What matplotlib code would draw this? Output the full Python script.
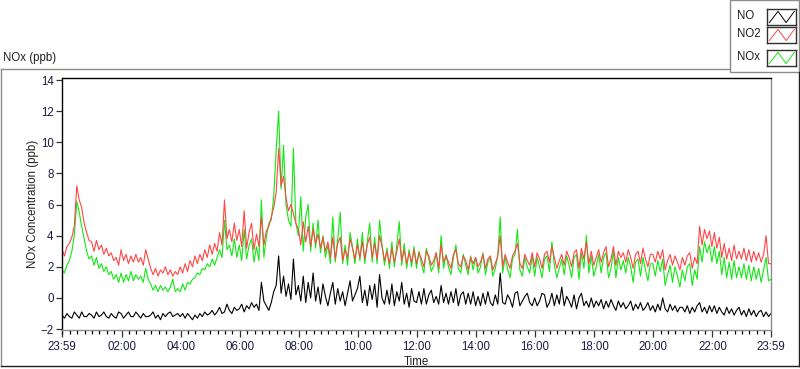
import numpy as np
import matplotlib
matplotlib.use("Agg")
import matplotlib.pyplot as plt
from matplotlib.lines import Line2D
from matplotlib.patches import Rectangle
from matplotlib.ticker import FixedLocator, MultipleLocator

# 5-minute readings, one row per hour, starting 23:59 of the previous day
no = [
    -1.1, -1.3, -1.0, -1.2, -1.3, -0.9, -1.1, -1.3, -0.9, -1.2, -1.2, -1.0,
    -1.1, -1.3, -0.9, -1.2, -1.1, -0.9, -1.2, -1.3, -1.0, -1.2, -1.3, -0.9,
    -1.0, -1.3, -1.1, -0.9, -1.2, -1.2, -0.9, -1.1, -1.3, -1.0, -1.2, -1.2,
    -1.1, -0.9, -1.3, -1.1, -1.4, -1.0, -1.2, -1.0, -0.9, -1.2, -1.1, -1.0,
    -1.2, -1.0, -1.3, -1.0, -1.2, -1.4, -1.1, -1.3, -1.0, -1.2, -0.9, -1.1,
    -1.0, -0.8, -1.1, -0.9, -0.6, -1.0, -0.9, -0.4, -0.8, -1.0, -0.6, -0.8,
    -0.7, -0.4, -0.9, -0.5, -0.7, -0.3, -0.6, -0.4, -0.8, 1.0, -0.2, -0.5,
    -0.8, -0.3, 0.4, 0.8, 2.7, 0.3, 1.4, 0.1, 0.9, -0.1, 2.5, 0.2,
    0.8, -0.2, 1.4, -0.3, 1.0, 0.0, 1.6, -0.2, 0.7, -0.4, 0.9, 0.1,
    -0.5, 0.3, 1.0, -0.4, 0.6, -0.2, 0.4, -0.5, 0.3, 1.1, -0.2, 0.2,
    0.6, 1.4, -0.3, 0.5, -0.5, 0.8, -0.1, 0.9, -0.6, 1.5, 0.0, -0.4,
    0.5, -0.4, 0.9, -0.5, 0.4, -0.2, 1.0, -0.4, 0.3, -0.6, 0.6, -0.2,
    -0.3, 0.4, -0.4, 0.6, -0.4, 0.2, 0.5, -0.3, 0.1, -0.4, 0.8, -0.3,
    0.3, -0.4, 0.4, -0.3, 0.6, -0.5, 0.2, 0.4, -0.4, 0.3, -0.4, 0.4,
    -0.5, 0.1, -0.5, 0.3, -0.4, 0.4, -0.3, -0.5, 0.2, -0.4, 1.6, -0.3,
    -0.4, 0.2, -0.1, -0.6, 0.3, 0.4, -0.5, -0.2, 0.1, 0.3, -0.3, -0.5,
    0.0, -0.5, -0.2, 0.3, 0.2, -0.6, -0.3, 0.3, -0.5, 0.2, -0.4, 0.7,
    -0.5, 0.1, -0.2, -0.6, 0.2, -0.7, 0.0, 0.3, -0.5, -0.2, -0.6, 0.0,
    -0.6, -0.2, -0.5, -0.1, -0.7, -0.2, -0.6, -0.1, -0.5, -0.8, -0.2, -0.6,
    -0.3, -0.7, -0.5, -0.2, -0.8, -0.4, -0.7, -0.3, -0.8, -0.6, -0.3, -0.8,
    -0.5, -0.9, -0.4, -0.8, 0.0, -0.7, -0.9, -0.4, -0.8, -0.5, -0.9, -0.6,
    -0.6, -0.9, -0.5, -1.0, -0.6, -0.9, -0.5, -0.3, -0.9, -0.6, -1.0, -0.5,
    -0.9, -0.5, -1.0, -0.6, -0.9, -1.1, -0.6, -1.0, -0.7, -1.1, -0.8, -0.6,
    -1.1, -0.8, -1.2, -0.7, -1.1, -0.8, -1.2, -0.9, -0.8, -1.2, -0.9, -1.2,
    -1.0,
]

no2 = [
    3.1, 2.7, 3.3, 3.5, 3.9, 4.6, 7.2, 6.3, 5.8, 4.8, 4.2, 3.7,
    3.6, 3.0, 3.7, 3.1, 3.4, 2.8, 3.2, 2.7, 2.9, 2.4, 2.6, 2.1,
    3.1, 2.4, 2.8, 2.2, 2.7, 2.3, 2.8, 2.3, 2.6, 2.1, 3.1, 2.5,
    1.9, 1.5, 1.9, 1.4, 1.8, 1.6, 2.0, 1.5, 1.8, 1.4, 1.7, 1.5,
    2.0, 1.6, 2.2, 1.7, 2.4, 2.0, 2.7, 2.2, 2.8, 2.4, 3.1, 2.6,
    3.4, 2.8, 3.5, 3.0, 4.2, 3.4, 6.3, 3.8, 4.4, 3.6, 4.8, 3.7,
    4.4, 3.3, 5.6, 3.2, 4.2, 4.8, 3.1, 4.1, 3.3, 5.2, 3.4, 4.3,
    4.6, 5.2, 5.8, 6.8, 9.6, 7.2, 7.8, 6.4, 5.6, 6.0, 5.4, 4.8,
    4.4, 3.4, 4.9, 3.6, 4.6, 3.3, 4.4, 3.5, 4.1, 3.2, 3.9, 3.0,
    3.6, 2.6, 3.9, 2.5, 3.5, 3.9, 2.4, 3.1, 2.6, 3.8, 3.2, 2.5,
    3.4, 2.6, 3.6, 2.5, 3.4, 3.9, 2.6, 3.5, 2.5, 4.0, 3.3, 2.4,
    3.0, 2.2, 3.2, 2.3, 3.0, 3.8, 2.4, 3.1, 2.2, 2.9, 2.3, 3.1,
    2.2, 2.9, 2.5, 2.0, 3.0, 2.7, 2.1, 2.4, 2.9, 1.9, 3.4, 2.3,
    2.7, 2.3, 1.9, 2.8, 3.1, 2.2, 2.0, 2.7, 2.4, 1.8, 2.6, 2.2,
    2.6, 2.0, 2.3, 2.8, 1.9, 2.5, 2.7, 1.8, 2.2, 2.7, 4.0, 2.0,
    2.8, 2.3, 1.9, 2.7, 3.0, 3.5, 2.2, 1.9, 2.8, 2.4, 2.1, 2.9,
    2.0, 2.9, 2.5, 1.9, 2.8, 3.0, 2.3, 3.3, 2.6, 1.9, 2.4, 2.8,
    2.1, 3.0, 2.6, 2.0, 2.9, 3.1, 1.9, 3.2, 2.5, 3.6, 2.2, 3.0,
    2.1, 2.6, 3.1, 2.3, 2.9, 3.3, 2.0, 2.5, 3.3, 2.1, 3.0, 2.6,
    2.9, 2.3, 3.1, 2.6, 1.9, 2.8, 3.0, 2.2, 3.2, 2.5, 2.0, 2.8,
    2.8, 2.3, 3.0, 2.5, 3.1, 1.8, 2.4, 2.8, 2.1, 2.7, 2.3, 1.8,
    2.6, 2.1, 2.7, 2.9, 1.9, 2.6, 2.2, 4.6, 3.4, 4.4, 3.8, 4.3,
    3.3, 4.2, 3.2, 3.9, 2.6, 3.5, 2.5, 3.2, 2.4, 3.4, 2.5, 3.0,
    2.5, 3.2, 2.4, 3.1, 2.3, 3.0, 2.4, 2.9, 2.3, 2.8, 4.0, 2.2,
    2.2,
]

nox = [
    1.8, 1.6, 2.1, 2.4, 3.0, 4.0, 6.2, 5.5, 4.6, 3.8, 3.0, 2.5,
    2.7, 2.1, 2.6, 1.9, 2.2, 1.7, 2.0, 1.5, 1.7, 1.2, 1.5, 1.0,
    1.6, 1.0, 1.5, 1.1, 1.7, 1.1, 1.5, 1.2, 1.4, 1.0, 1.9, 1.2,
    0.9, 0.5, 0.8, 0.4, 0.8, 0.5, 0.7, 0.4, 0.7, 1.2, 0.4, 0.6,
    0.4, 0.9, 0.5, 1.0, 0.9, 1.2, 1.3, 1.6, 1.5, 1.9, 1.8, 2.2,
    2.0, 2.5, 2.1, 2.6, 3.1, 2.6, 5.0, 3.1, 3.4, 2.7, 3.8, 2.6,
    3.4, 2.4, 4.4, 2.5, 3.4, 3.8, 2.3, 3.3, 2.4, 6.3, 2.6, 3.9,
    4.8, 5.0, 6.5, 9.5, 12.0, 7.0, 9.8, 6.0, 5.0, 4.6, 9.6, 4.8,
    4.0, 6.5, 3.0, 5.2, 6.0, 3.0, 4.8, 3.2, 5.0, 2.9, 4.0, 2.6,
    3.4, 2.2, 5.2, 2.3, 3.8, 5.5, 2.2, 3.4, 2.1, 4.2, 3.3, 2.2,
    3.8, 2.4, 4.2, 2.2, 3.6, 4.8, 2.3, 3.9, 2.2, 5.0, 3.4, 2.1,
    3.2, 1.9, 3.6, 2.0, 3.4, 4.9, 2.1, 3.5, 1.9, 3.1, 2.0, 3.3,
    1.9, 3.0, 2.2, 1.6, 3.2, 2.5, 1.7, 2.1, 2.9, 1.6, 4.0, 1.9,
    2.8, 2.0, 1.5, 2.6, 3.4, 1.9, 1.6, 2.8, 2.1, 1.5, 2.7, 1.8,
    2.6, 1.6, 2.0, 2.9, 1.5, 2.3, 2.6, 1.4, 1.9, 2.7, 5.2, 1.6,
    2.6, 1.9, 1.3, 2.5, 2.8, 4.4, 1.8, 1.4, 2.6, 2.0, 1.6, 2.7,
    1.4, 2.6, 2.0, 1.3, 2.5, 2.7, 1.7, 3.6, 2.1, 1.3, 1.9, 2.5,
    1.5, 2.7, 2.1, 1.3, 2.6, 2.8, 1.2, 2.9, 1.9, 4.0, 1.6, 2.7,
    1.4, 2.0, 2.8, 1.6, 2.6, 2.9, 1.3, 1.9, 3.0, 1.3, 2.6, 1.8,
    2.4, 1.6, 2.6, 2.0, 1.0, 2.3, 2.5, 1.4, 2.6, 1.8, 1.1, 2.2,
    2.2, 1.4, 2.4, 1.7, 2.5, 0.8, 1.5, 2.1, 1.0, 2.0, 1.4, 0.7,
    1.8, 1.1, 2.0, 2.2, 0.8, 1.8, 1.2, 3.3, 2.3, 3.6, 2.9, 3.4,
    2.3, 3.3, 2.2, 3.0, 1.5, 2.6, 1.3, 2.3, 1.2, 2.4, 1.3, 2.0,
    1.3, 2.2, 1.2, 2.1, 1.1, 2.0, 1.2, 1.9, 1.0, 1.8, 2.6, 1.1,
    1.2,
]

tick_minutes = [-1, 120, 240, 360, 480, 600, 720, 840, 960, 1080, 1200, 1320, 1439]
tick_labels = ["23:59", "02:00", "04:00", "06:00", "08:00", "10:00", "12:00",
               "14:00", "16:00", "18:00", "20:00", "22:00", "23:59"]
series_names = ["NO", "NO2", "NOx"]
series_colors = ["#000000", "#ff4646", "#12e812"]

minutes = np.arange(len(no)) * 5 - 1

W, H = 800, 369
def fx(px):
    return px / W
def fy(py):
    return 1 - py / H

plt.rcParams['font.family'] = ['Liberation Sans', 'DejaVu Sans']
txt = "#1b1b40"
fs = 8.3

fig = plt.figure(figsize=(8, 3.69), dpi=100)
ax = fig.add_axes([fx(62), fy(330), fx(771) - fx(62), fy(78) - fy(330)])

ax.plot(minutes, no, color=series_colors[0], lw=0.8)
ax.plot(minutes, nox, color=series_colors[2], lw=0.8)
ax.plot(minutes, no2, color=series_colors[1], lw=0.8)

ax.set_xlim(-1, 1439)
ax.set_ylim(-2.06, 14.13)
ax.yaxis.set_major_locator(FixedLocator([-2, 0, 2, 4, 6, 8, 10, 12, 14]))
ax.set_xticks(tick_minutes)
ax.set_xticklabels(tick_labels)
ax.xaxis.set_minor_locator(MultipleLocator(15))
ax.tick_params(axis='both', labelsize=fs, labelcolor=txt, color="#333333", direction='out')
ax.tick_params(axis='x', which='major', length=5, width=0.9, pad=3)
ax.tick_params(axis='x', which='minor', length=3, width=0.9)
ax.tick_params(axis='y', length=4, width=0.9, pad=2)

for s in ['left', 'top']:
    ax.spines[s].set_color("#000000")
for s in ['right', 'bottom']:
    ax.spines[s].set_color("#8c8c8c")
for s in ax.spines.values():
    s.set_linewidth(1.0)

ax.set_ylabel("NOx Concentration (ppb)", fontsize=fs, color="#202020", labelpad=1)
ax.set_xlabel("Time", fontsize=fs, color="#202020", labelpad=2)

# outer panel frame
fig.add_artist(Line2D([fx(0.5), fx(0.5)], [fy(69), fy(366)], color="#8c8c8c", lw=1))
fig.add_artist(Line2D([fx(0.5), fx(730)], [fy(69), fy(69)], color="#8c8c8c", lw=1))
fig.add_artist(Line2D([fx(798.5), fx(798.5)], [fy(72), fy(366)], color="#202020", lw=1))
fig.add_artist(Line2D([fx(0.5), fx(798.5)], [fy(366), fy(366)], color="#202020", lw=1))

fig.text(fx(3), fy(58), "NOx (ppb)", fontsize=fs, color="#202020", va='center', ha='left')

# legend panel
fig.add_artist(Rectangle((fx(730), fy(72)), fx(799) - fx(730), fy(0) - fy(72),
                         facecolor="white", edgecolor="#8c8c8c", lw=1, zorder=1))
swatch_top = [9, 27, 50]
for name, col, top in zip(series_names, series_colors, swatch_top):
    fig.text(fx(737), fy(top + 7), name, fontsize=fs, color="#202020", va='center', ha='left')
    sw = fig.add_axes([fx(767), fy(top + 16), fx(796) - fx(767), fy(top) - fy(top + 16)])
    sw.set_zorder(5)
    sw.plot([0.08, 0.38, 0.66, 0.94], [0.15, 0.85, 0.15, 0.85], color=col, lw=0.7)
    sw.set_xlim(0, 1)
    sw.set_ylim(0, 1)
    sw.set_xticks([])
    sw.set_yticks([])
    for s in sw.spines.values():
        s.set_color("#303030")
        s.set_linewidth(1.0)

fig.savefig("out.png", dpi=100)
